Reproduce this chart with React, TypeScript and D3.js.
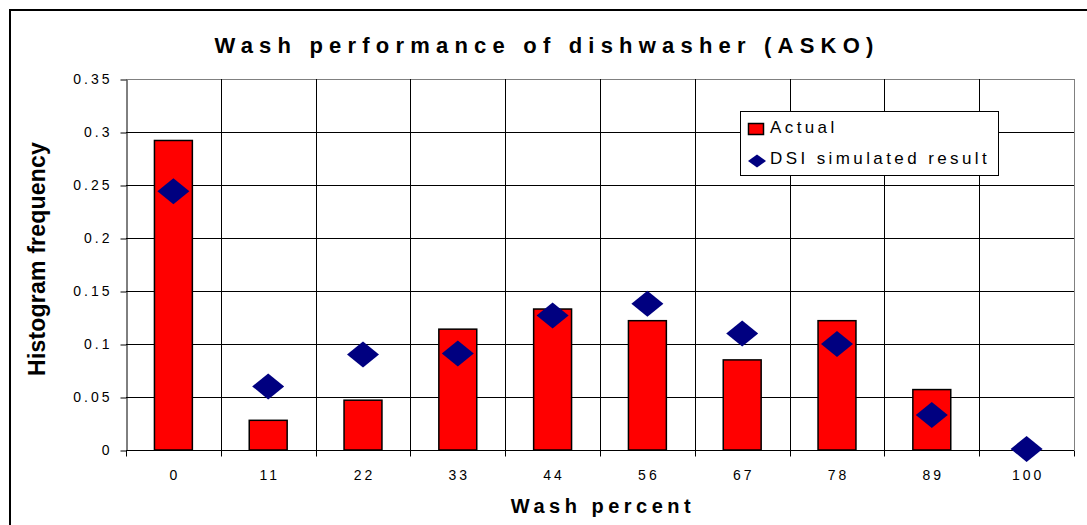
import React, { useRef, useEffect } from 'react';
import * as d3 from 'd3';

const categories = ['0', '11', '22', '33', '44', '56', '67', '78', '89', '100'];
const actual = [0.292, 0.028, 0.047, 0.114, 0.133, 0.122, 0.085, 0.122, 0.057, 0];
const simulated = [0.244, 0.06, 0.09, 0.091, 0.127, 0.138, 0.11, 0.1, 0.033, 0.001];
const yTicks = [0, 0.05, 0.1, 0.15, 0.2, 0.25, 0.3, 0.35];

function App() {
    const svgRef = useRef<SVGSVGElement>(null);

    useEffect(() => {
        const width = 1087;
        const height = 525;
        const margin = { top: 79, right: 13, bottom: 75, left: 126 };
        const font = 'Liberation Sans, Arial, sans-serif';

        const svg = d3.select(svgRef.current);
        svg.selectAll('*').remove();
        svg.attr('width', width).attr('height', height).style('font-family', font);

        const x = d3.scaleBand()
            .domain(categories)
            .range([margin.left, width - margin.right])
            .paddingInner(0)
            .paddingOuter(0);

        const y = d3.scaleLinear()
            .domain([0, 0.35])
            .range([height - margin.bottom, margin.top]);

        // outer frame
        svg.append('rect')
            .attr('x', 10).attr('y', 10)
            .attr('width', width + 10).attr('height', height + 10)
            .attr('fill', 'white').attr('stroke', 'black').attr('stroke-width', 2);

        // horizontal grid
        svg.append('g')
            .selectAll('line')
            .data(yTicks.slice(1))
            .join('line')
            .attr('x1', margin.left).attr('x2', width - margin.right)
            .attr('y1', d => Math.round(y(d)) + 0.5).attr('y2', d => Math.round(y(d)) + 0.5)
            .attr('stroke', (d, i) => i === yTicks.length - 2 ? '#808080' : 'black');

        // vertical grid at category boundaries
        svg.append('g')
            .selectAll('line')
            .data(categories.slice(1))
            .join('line')
            .attr('x1', d => Math.round(x(d)!) + 0.5).attr('x2', d => Math.round(x(d)!) + 0.5)
            .attr('y1', y(0.35)).attr('y2', y(0))
            .attr('stroke', 'black');

        svg.append('line')
            .attr('x1', width - margin.right + 0.5).attr('x2', width - margin.right + 0.5)
            .attr('y1', y(0.35)).attr('y2', y(0))
            .attr('stroke', '#808080');

        // bars
        const barW = x.bandwidth() * 0.4;
        svg.append('g')
            .selectAll('rect')
            .data(actual)
            .join('rect')
            .attr('x', (d, i) => x(categories[i])! + (x.bandwidth() - barW) / 2)
            .attr('y', d => y(d))
            .attr('width', barW)
            .attr('height', d => y(0) - y(d))
            .attr('fill', '#ff0000')
            .attr('stroke', 'black')
            .attr('stroke-width', d => d > 0 ? 1.5 : 0);

        // y axis
        const yAxis = svg.append('g')
            .attr('transform', `translate(${margin.left + 0.5}, 0.5)`)
            .call(d3.axisLeft(y).tickValues(yTicks).tickSize(6).tickSizeOuter(0).tickFormat(d => String(d)));
        yAxis.select('.domain').attr('stroke', 'black');
        yAxis.selectAll('.tick line').attr('stroke', 'black');
        yAxis.selectAll('.tick text')
            .attr('x', -14)
            .attr('font-size', 14)
            .attr('font-family', font)
            .attr('letter-spacing', 3)
            .attr('fill', 'black');

        // x axis
        const xAxis = svg.append('g')
            .attr('transform', `translate(0, ${y(0) + 0.5})`);
        xAxis.append('line')
            .attr('x1', margin.left).attr('x2', width - margin.right)
            .attr('stroke', 'black');
        xAxis.selectAll('.xt')
            .data([...categories.map(c => x(c)!), width - margin.right])
            .join('line')
            .attr('x1', d => Math.round(d) + 0.5).attr('x2', d => Math.round(d) + 0.5)
            .attr('y1', 0).attr('y2', 6)
            .attr('stroke', 'black');
        xAxis.selectAll('text')
            .data(categories)
            .join('text')
            .attr('x', d => x(d)! + x.bandwidth() / 2 + 1.5)
            .attr('y', 29)
            .attr('text-anchor', 'middle')
            .attr('font-size', 14)
            .attr('letter-spacing', 3)
            .text(d => d);

        // diamonds
        const diamond = (cx: number, cy: number, hw: number, hh: number) =>
            `M${cx},${cy - hh}L${cx + hw},${cy}L${cx},${cy + hh}L${cx - hw},${cy}Z`;
        svg.append('g')
            .selectAll('path')
            .data(simulated)
            .join('path')
            .attr('d', (d, i) => diamond(x(categories[i])! + x.bandwidth() / 2, y(d), 16, 13))
            .attr('fill', '#000080');

        // title
        svg.append('text')
            .attr('x', 547).attr('y', 53)
            .attr('text-anchor', 'middle')
            .attr('font-size', 22)
            .attr('font-weight', 'bold')
            .attr('letter-spacing', 6.2)
            .text('Wash performance of dishwasher (ASKO)');

        // axis titles
        svg.append('text')
            .attr('x', 603).attr('y', 513)
            .attr('text-anchor', 'middle')
            .attr('font-size', 20)
            .attr('font-weight', 'bold')
            .attr('letter-spacing', 4.5)
            .text('Wash percent');

        svg.append('text')
            .attr('transform', `translate(45, 259) rotate(-90)`)
            .attr('text-anchor', 'middle')
            .attr('font-size', 23)
            .attr('font-weight', 'bold')
            .attr('letter-spacing', 0.2)
            .text('Histogram frequency');

        // legend
        const legend = svg.append('g').attr('transform', 'translate(740, 111)');
        legend.append('rect')
            .attr('x', 0.5).attr('y', 0.5)
            .attr('width', 258).attr('height', 64)
            .attr('fill', 'white').attr('stroke', 'black');
        legend.append('rect')
            .attr('x', 8.5).attr('y', 12.5).attr('width', 15).attr('height', 11)
            .attr('fill', '#ff0000').attr('stroke', 'black').attr('stroke-width', 1.5);
        legend.append('path')
            .attr('d', diamond(17, 50, 9, 6.5))
            .attr('fill', '#000080');
        legend.append('text')
            .attr('x', 30).attr('y', 22)
            .attr('font-size', 17)
            .attr('letter-spacing', 3.4)
            .text('Actual');
        legend.append('text')
            .attr('x', 30).attr('y', 53)
            .attr('font-size', 17)
            .attr('letter-spacing', 3.4)
            .text('DSI simulated result');
    }, []);

    return (
        <div>
            <svg ref={svgRef} style={{ position: 'absolute', left: 0, top: 0 }}></svg>
        </div>
    );
}

export default App;
